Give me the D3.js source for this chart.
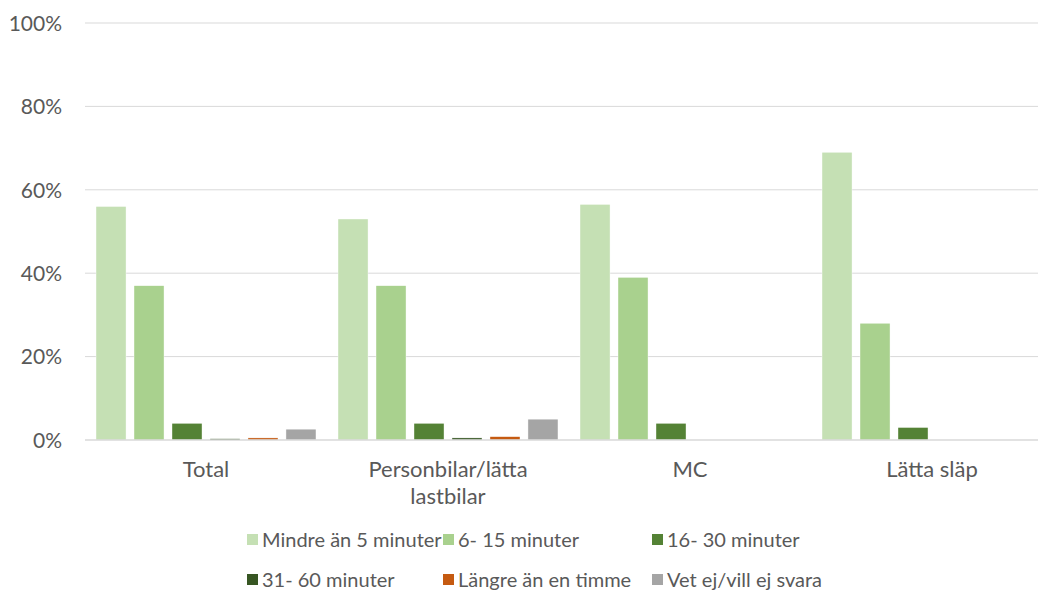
<!DOCTYPE html>
<html>
<head>
<meta charset="utf-8">
<script src="https://cdn.jsdelivr.net/npm/d3@7"></script>
<style>
  html, body { margin: 0; padding: 0; background: #fff; }
  svg { display: block; }
  text { font-family: "Lato", "Open Sans", sans-serif; fill: #595959; }
</style>
</head>
<body>
<svg id="chart" width="1038" height="591"></svg>
<script>
// Categories and response groups
const categories = [["Total"], ["Personbilar/lätta", "lastbilar"], ["MC"], ["Lätta släp"]];
const categoryKeys = ["Total", "Personbilar/lätta lastbilar", "MC", "Lätta släp"];
const seriesNames = ["Mindre än 5 minuter", "6- 15 minuter", "16- 30 minuter", "31- 60 minuter", "Längre än en timme", "Vet ej/vill ej svara"];
const seriesColors = ["#C5E0B4", "#A9D18E", "#548235", "#375623", "#C55A11", "#A5A5A5"];

// Share of respondents (fraction) per series, one value per category
const mindreAn5 = [0.56, 0.53, 0.565, 0.69];
const min6to15 = [0.37, 0.37, 0.39, 0.28];
const min16to30 = [0.04, 0.04, 0.04, 0.03];
const min31to60 = [0.003, 0.005, 0, 0];
const langreAnTimme = [0.005, 0.008, 0, 0];
const vetEj = [0.026, 0.05, 0, 0];
const seriesValues = [mindreAn5, min6to15, min16to30, min31to60, langreAnTimme, vetEj];

const yTicks = [0, 0.2, 0.4, 0.6, 0.8, 1.0];

const svg = d3.select("#chart");

const x0 = d3.scaleBand().domain(categoryKeys).range([85, 1053]);
const x1 = d3.scaleBand().domain(seriesNames).range([0, x0.bandwidth()])
  .paddingInner(0.21).paddingOuter(0.29);
const y = d3.scaleLinear().domain([0, 1]).range([440, 23]);

// Gridlines
svg.append("g")
  .selectAll("line")
  .data(yTicks.filter(d => d > 0))
  .join("line")
  .attr("x1", 85).attr("x2", 1038)
  .attr("y1", d => y(d)).attr("y2", d => y(d))
  .attr("stroke", "#D9D9D9").attr("stroke-width", 1);

// Y axis labels
const yAxis = d3.axisLeft(y).tickValues(yTicks).tickFormat(d3.format(".0%")).tickSize(0).tickPadding(0);
const yg = svg.append("g").attr("transform", "translate(62,0)").call(yAxis);
yg.select(".domain").remove();
yg.selectAll("text").attr("font-size", 21).attr("fill", "#595959")
  .style("font-family", "Lato, 'Open Sans', sans-serif").attr("dy", "0.35em");

// Bars
const groups = svg.append("g")
  .selectAll("g")
  .data(categoryKeys)
  .join("g")
  .attr("transform", d => `translate(${x0(d)},0)`);

groups.selectAll("rect")
  .data((c, ci) => seriesNames.map((s, si) => ({ s, si, v: seriesValues[si][ci] })))
  .join("rect")
  .filter(d => d.v > 0)
  .attr("x", d => x1(d.s))
  .attr("width", x1.bandwidth())
  .attr("y", d => y(d.v))
  .attr("height", d => y(0) - y(d.v))
  .attr("fill", d => seriesColors[d.si])
  .attr("stroke", "#fff").attr("stroke-width", 0.4);

// X axis line
svg.append("line")
  .attr("x1", 85).attr("x2", 1038).attr("y1", 440).attr("y2", 440)
  .attr("stroke", "#D9D9D9").attr("stroke-width", 1.5);

// Category labels
categoryKeys.forEach((k, i) => {
  const t = svg.append("text")
    .attr("x", x0(k) + x0.bandwidth() / 2)
    .attr("y", 477)
    .attr("text-anchor", "middle")
    .attr("font-size", 22);
  categories[i].forEach((line, li) => {
    t.append("tspan").attr("x", x0(k) + x0.bandwidth() / 2).attr("dy", li === 0 ? 0 : 27).text(line);
  });
});

// Legend
const legendX = [247, 443, 652];
const legendY = [540, 580];
const legend = svg.append("g");
seriesNames.forEach((name, i) => {
  const col = i % 3, row = Math.floor(i / 3);
  const g = legend.append("g").attr("transform", `translate(${legendX[col]},${legendY[row]})`);
  g.append("rect").attr("x", 0).attr("y", -6).attr("width", 11).attr("height", 11).attr("fill", seriesColors[i]);
  g.append("text").attr("x", 15).attr("y", 0).attr("dy", "0.35em").attr("font-size", 20).text(name);
});
</script>
</body>
</html>
